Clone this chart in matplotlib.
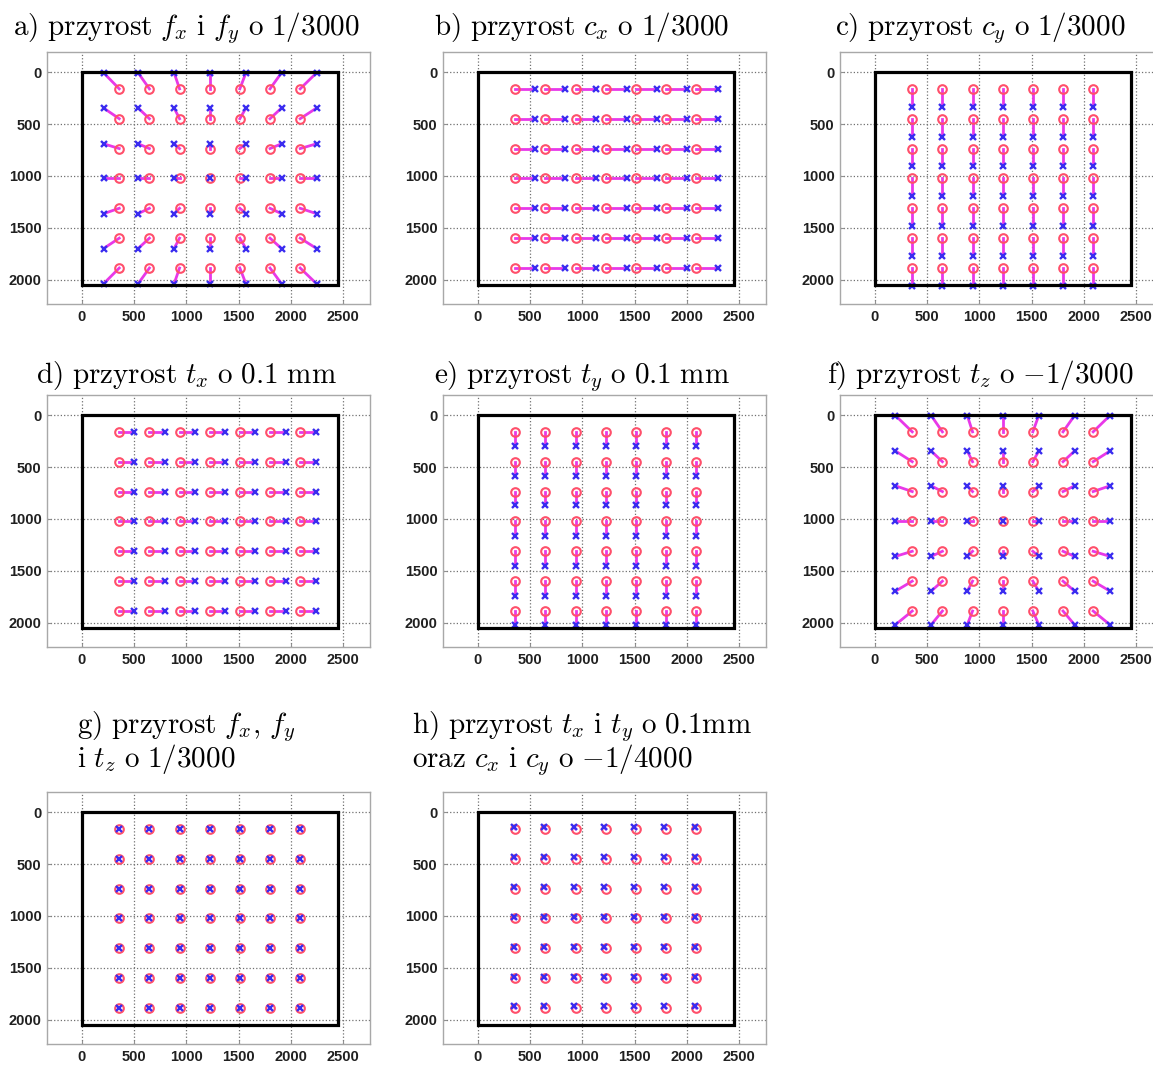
import numpy as np
import matplotlib
matplotlib.use("Agg")
import matplotlib.pyplot as plt
from matplotlib.patches import Rectangle

plt.rcParams['mathtext.fontset'] = 'cm'

# ---- data (image pixel coordinates) ----
frame_w, frame_h = 2448, 2048
grid_x = [360, 648, 936, 1224, 1512, 1800, 2088]
grid_y = [160, 448, 736, 1024, 1312, 1600, 1888]

a_sx = [210, 540, 884, 1224, 1570, 1910, 2245]
a_sy = [5, 345, 690, 1024, 1364, 1700, 2040]
b_sx = [550, 840, 1130, 1425, 1715, 2005, 2300]
b_sy = grid_y
c_sx = grid_x
c_sy = [335, 620, 905, 1195, 1480, 1770, 2060]
d_sx = [505, 795, 1085, 1370, 1660, 1950, 2240]
d_sy = grid_y
e_sx = grid_x
e_sy = [295, 585, 870, 1160, 1450, 1740, 2025]
f_sx = [200, 541, 886, 1224, 1568, 1910, 2248]
f_sy = [3, 345, 681, 1024, 1361, 1696, 2020]
g_sx = grid_x
g_sy = grid_y
h_sx = [345, 633, 921, 1209, 1497, 1785, 2073]
h_sy = [145, 433, 721, 1009, 1297, 1585, 1873]

x_ticks = [0, 500, 1000, 1500, 2000, 2500]
y_ticks = [0, 500, 1000, 1500, 2000]

titles = [
    [r"$\mathrm{a)\ przyrost}\ f_x\ \mathrm{i}\ f_y\ \mathrm{o}\ 1/3000$"],
    [r"$\mathrm{b)\ przyrost}\ c_x\ \mathrm{o}\ 1/3000$"],
    [r"$\mathrm{c)\ przyrost}\ c_y\ \mathrm{o}\ 1/3000$"],
    [r"$\mathrm{d)\ przyrost}\ t_x\ \mathrm{o}\ 0.1\ \mathrm{mm}$"],
    [r"$\mathrm{e)\ przyrost}\ t_y\ \mathrm{o}\ 0.1\ \mathrm{mm}$"],
    [r"$\mathrm{f)\ przyrost}\ t_z\ \mathrm{o}\ {-}1/3000$"],
    [r"$\mathrm{g)\ przyrost}\ f_x\mathrm{,}\ f_y$", r"$\mathrm{i}\ t_z\ \mathrm{o}\ 1/3000$"],
    [r"$\mathrm{h)\ przyrost}\ t_x\ \mathrm{i}\ t_y\ \mathrm{o}\ 0.1\mathrm{mm}$",
     r"$\mathrm{oraz}\ c_x\ \mathrm{i}\ c_y\ \mathrm{o}\ {-}1/4000$"],
]
shifts = [(a_sx, a_sy), (b_sx, b_sy), (c_sx, c_sy), (d_sx, d_sy),
          (e_sx, e_sy), (f_sx, f_sy), (g_sx, g_sy), (h_sx, h_sy)]

# ---- layout ----
W, H = 1153, 1066
fig = plt.figure(figsize=(W / 100, H / 100), dpi=100)
fig.patch.set_facecolor('white')

col_left = [47, 443, 840]
row_top = [52, 395, 792]
ax_w, ax_h = 323, 252
title_cx = [186, 582, 980]
title_base = [35, 383]
tick_font = ['Liberation Sans Narrow', 'DejaVu Sans Condensed', 'Liberation Sans']
TFS = 21

X, Y = np.meshgrid(grid_x, grid_y)

for i, ((sx, sy), ttl) in enumerate(zip(shifts, titles)):
    r, c = divmod(i, 3)
    left, top = col_left[c], row_top[r]
    ax = fig.add_axes([left / W, 1 - (top + ax_h) / H, ax_w / W, ax_h / H])
    SX, SY = np.meshgrid(sx, sy)
    ax.plot(np.vstack([X.ravel(), SX.ravel()]), np.vstack([Y.ravel(), SY.ravel()]),
            color='#e838e8', lw=2.0, zorder=2)
    ax.plot(X.ravel(), Y.ravel(), 'o', mfc='none', mec='#ff4f6a', ms=6.2, mew=1.5, zorder=3)
    ax.plot(SX.ravel(), SY.ravel(), 'x', color='#3a2cf0', ms=4.6, mew=1.7, zorder=4)
    ax.add_patch(Rectangle((0, 0), frame_w, frame_h, fill=False, ec='black', lw=2.3, zorder=5))
    ax.set_xlim(-330, 2755)
    ax.set_ylim(2235, -195)
    ax.set_xticks(x_ticks)
    ax.set_yticks(y_ticks)
    ax.set_xticklabels([str(v) for v in x_ticks], family=tick_font, fontsize=10.5,
                       fontweight='bold', fontstretch='condensed', color='#202020')
    ax.set_yticklabels([str(v) for v in y_ticks], family=tick_font, fontsize=10.5,
                       fontweight='bold', fontstretch='condensed', color='#202020')
    ax.tick_params(direction='in', length=3, color='#909090', pad=4)
    ax.grid(True, linestyle=':', color='#707070', lw=0.9)
    ax.set_axisbelow(True)
    for s in ax.spines.values():
        s.set_color('#a8a8a8')
        s.set_linewidth(1.0)

    if len(ttl) == 1:
        fig.text(title_cx[c] / W, 1 - title_base[r] / H, ttl[0], ha='center', va='baseline',
                 fontsize=TFS)
    else:
        lx = [77, 412][c]
        fig.text(lx / W, 1 - 733 / H, ttl[0], ha='left', va='baseline', fontsize=TFS)
        fig.text(lx / W, 1 - 767 / H, ttl[1], ha='left', va='baseline', fontsize=TFS)

fig.savefig('out.png', dpi=100, facecolor='white')
